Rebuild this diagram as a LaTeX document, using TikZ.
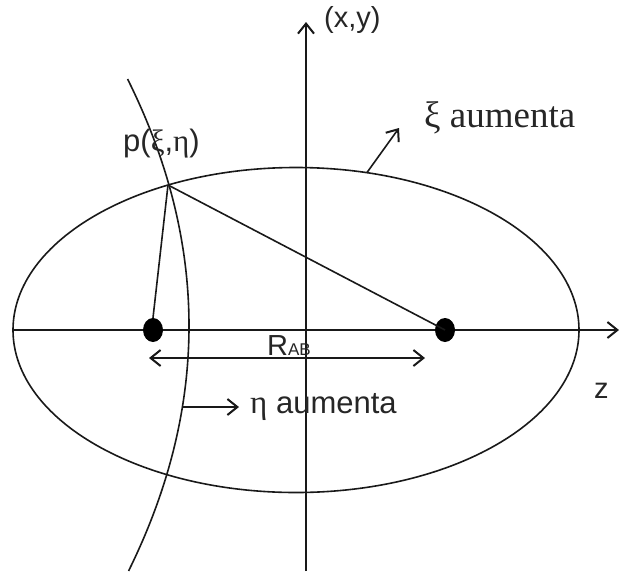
\documentclass[tikz,border=0pt]{standalone}
\usepackage{fontspec}
\setmainfont{Liberation Sans}
\newfontfamily\serifgr{Liberation Serif}
\usetikzlibrary{arrows.meta,shapes.geometric}
\begin{document}
\begin{tikzpicture}[x=1pt,y=-1pt,
  thinline/.style={line width=1.6pt,black!90},
  barb/.style={-{Straight Barb[length=10pt,width=16pt,line width=2pt]}},
  dbarb/.style={{Straight Barb[length=10pt,width=16pt,line width=2pt]}-{Straight Barb[length=10pt,width=16pt,line width=2pt]}},
  sanslbl/.style={font=\fontsize{29}{30}\selectfont,inner sep=0pt,anchor=base west,text=black!85},
  seriflbl/.style={font=\serifgr\fontsize{37}{38}\selectfont,inner sep=0pt,anchor=base west,text=black!85},
  dot/.style={ellipse,fill=black,minimum width=20pt,minimum height=24pt,inner sep=0pt}]
\useasboundingbox (0,0) rectangle (621,571);
% coordinates
\coordinate (axbot) at (306,571);
\coordinate (axtop) at (306,22);
\coordinate (zl) at (13,330);
\coordinate (zr) at (619,330);
\coordinate (P) at (168,185);
\coordinate (ecen) at (296,330);
\coordinate (xistart) at (367,172.5);
\coordinate (xiend) at (399,128);
\coordinate (etastart) at (182.4,407);
\coordinate (etaend) at (239,407);
\coordinate (rl) at (149,358);
\coordinate (rr) at (425,358);
% axes
\draw[thinline,barb] (axbot) -- (axtop);
\draw[thinline,barb] (zl) -- (zr);
% ellipse
\draw[thinline] (ecen) ellipse [x radius=283, y radius=162.5];
% hyperbola-like curve
\draw[thinline] plot[domain=79:571,samples=80,smooth] ({189-0.001*(\x-326)*(\x-326)},\x);
% dots
\node[dot] (A) at (153,330) {};
\node[dot] (B) at (445,330) {};
% lines from p
\draw[thinline] (P) -- (A.north);
\draw[thinline] (P) -- (B.center);
% R_AB double arrow
\draw[thinline,dbarb] (rl) -- (rr);
\node[sanslbl] (rab) at (267,355) {R\fontsize{17}{18}\selectfont AB};
% eta arrow
\draw[thinline,barb] (etastart) -- (etaend);
\node[sanslbl,font=\fontsize{31}{32}\selectfont] (etal) at (250,413) {{\serifgr\fontsize{33}{33}\selectfont η} aumenta};
% xi arrow
\draw[thinline,barb] (xistart) -- (xiend);
\node[seriflbl] (xil) at (424,127) {ξ aumenta};
% labels
\node[sanslbl] (xy) at (324,27) {(x,y)};
\node[sanslbl] (z) at (594,398) {z};
\node[sanslbl,font=\fontsize{31}{32}\selectfont] (pl) at (123,151) {p({\serifgr ξ},{\serifgr η})};
\end{tikzpicture}
\end{document}
